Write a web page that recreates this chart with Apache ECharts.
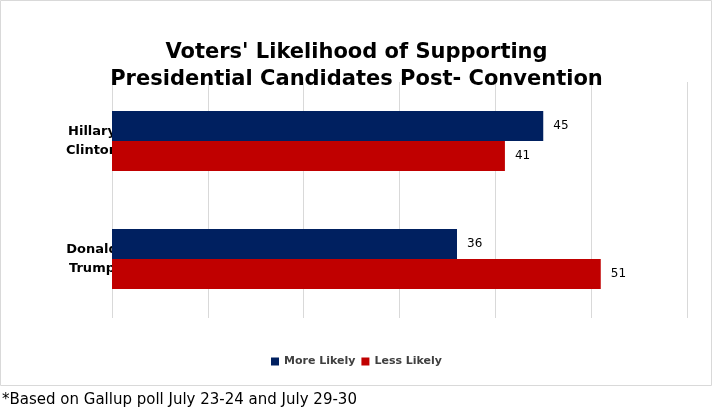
<!DOCTYPE html>
<html>
<head>
<meta charset="utf-8">
<script src="https://cdn.jsdelivr.net/npm/echarts@6/dist/echarts.min.js"></script>
<style>
  html, body { margin: 0; padding: 0; background: #fff; }
  #chart { width: 713px; height: 410px; }
</style>
</head>
<body>
<div id="chart"></div>
<script>
var candidates = ['Hillary\nClinton', 'Donald\nTrump'];
var moreLikely = [45, 36];
var lessLikely = [41, 51];

(function () {
  var chart = echarts.init(document.getElementById('chart'));
  var font = 'DejaVu Sans, Verdana, sans-serif';
  var option = {
    textStyle: { fontFamily: font },
    title: {
      text: "Voters' Likelihood of Supporting\nPresidential Candidates Post- Convention",
      left: 'center',
      top: 34,
      textStyle: { fontSize: 21, fontWeight: 'bold', color: '#000', lineHeight: 27, fontFamily: font }
    },
    legend: {
      bottom: 38,
      left: 'center',
      itemWidth: 8,
      itemHeight: 8,
      itemGap: 6,
      icon: 'rect',
      textStyle: { fontSize: 11, fontWeight: 'bold', color: '#404040', fontFamily: font }
    },
    grid: { left: 112, right: 26, top: 82, bottom: 92 },
    xAxis: {
      type: 'value',
      min: 0,
      max: 60,
      interval: 10,
      axisLabel: { show: false },
      axisLine: { show: false },
      axisTick: { show: false },
      splitLine: { lineStyle: { color: '#d9d9d9' } }
    },
    yAxis: {
      type: 'category',
      inverse: true,
      data: candidates,
      axisTick: { show: false },
      axisLine: { show: false },
      axisLabel: { fontSize: 13, fontWeight: 'bold', color: '#000', margin: 20, align: 'center', lineHeight: 19, padding: [0, 0, 0, 0] }
    },
    series: [
      {
        name: 'More Likely',
        type: 'bar',
        data: moreLikely,
        barWidth: 30,
        barGap: '0%',
        itemStyle: { color: '#002060' },
        label: { show: true, position: 'right', distance: 10, color: '#000', fontSize: 12, fontFamily: font }
      },
      {
        name: 'Less Likely',
        type: 'bar',
        data: lessLikely,
        barWidth: 30,
        itemStyle: { color: '#c00000' },
        label: { show: true, position: 'right', distance: 10, color: '#000', fontSize: 12, fontFamily: font }
      }
    ],
    graphic: [
      {
        type: 'rect',
        shape: { x: 0.5, y: 0.5, width: 711, height: 385 },
        style: { fill: 'none', stroke: '#d9d9d9', lineWidth: 1 },
        silent: true
      },
      {
        type: 'text',
        left: 2,
        top: 393,
        style: { text: '*Based on Gallup poll July 23-24 and July 29-30', fontSize: 15, fill: '#000', fontFamily: font }
      }
    ]
  };
  chart.setOption(option);
})();
</script>
</body>
</html>
